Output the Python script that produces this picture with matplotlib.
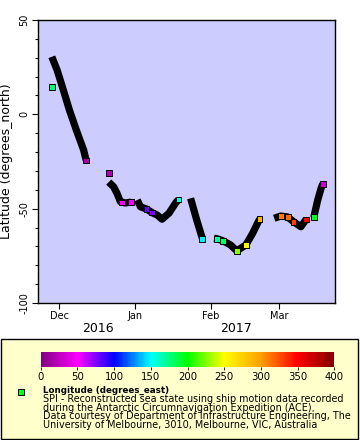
import numpy as np
import pandas as pd
import matplotlib
matplotlib.use('Agg')
import matplotlib.pyplot as plt
import matplotlib.dates as mdates
from matplotlib.colors import LinearSegmentedColormap, Normalize
from matplotlib.patches import Rectangle

plt.rcParams['axes.unicode_minus'] = False

# ship track (black), split into legs
track_time = ['2016-11-27 21:00', '2016-11-30 01:00', '2016-12-02 16:00', '2016-12-05 02:00',
              '2016-12-07 22:00', '2016-12-10 22:00', '2016-12-11 22:00',
              '2016-12-21 05:00', '2016-12-23 05:00', '2016-12-24 14:00', '2016-12-26 00:00',
              '2016-12-28 00:00', '2016-12-30 10:00',
              '2017-01-01 22:00', '2017-01-03 05:00', '2017-01-05 17:00', '2017-01-08 00:00',
              '2017-01-10 02:00', '2017-01-12 02:00', '2017-01-14 22:00', '2017-01-17 14:00',
              '2017-01-18 19:00',
              '2017-01-23 19:00', '2017-01-26 07:00', '2017-01-28 14:00',
              '2017-02-02 10:00', '2017-02-03 12:00', '2017-02-06 05:00', '2017-02-09 05:00',
              '2017-02-11 17:00', '2017-02-15 10:00', '2017-02-18 05:00', '2017-02-20 05:00',
              '2017-02-21 02:00',
              '2017-02-27 02:00', '2017-03-01 19:00', '2017-03-04 14:00', '2017-03-07 00:00',
              '2017-03-10 00:00', '2017-03-12 02:00',
              '2017-03-15 07:00', '2017-03-16 22:00', '2017-03-18 07:00', '2017-03-19 00:00']
track_lat = [30.5, 23.5, 12.6, 2.3, -8.3, -18.9, -24.2,
             -35.9, -38.4, -41.8, -46.3, -47.0, -46.5,
             -45.4, -49.0, -50.2, -52.1, -53.4, -55.6, -52.4, -47.1, -45.2,
             -44.5, -56.0, -65.7,
             -65.7, -65.9, -67.1, -69.3, -72.3, -69.3, -63.1, -57.8, -55.5,
             -55.1, -53.9, -54.4, -56.9, -59.6, -55.8,
             -54.6, -45.4, -39.2, -36.8]
track_leg = [1, 1, 1, 1, 1, 1, 1,
             2, 2, 2, 2, 2, 2,
             3, 3, 3, 3, 3, 3, 3, 3, 3,
             4, 4, 4,
             5, 5, 5, 5, 5, 5, 5, 5, 5,
             6, 6, 6, 6, 6, 6,
             7, 7, 7, 7]

# coloured samples (colour = longitude)
pt_time = ['2016-11-27 22:00', '2016-12-11 22:00', '2016-12-21 07:00', '2016-12-26 17:00',
           '2016-12-30 10:00', '2017-01-05 17:00', '2017-01-08 00:00', '2017-01-18 19:00',
           '2017-01-28 14:00', '2017-02-03 12:00', '2017-02-06 05:00', '2017-02-11 17:00',
           '2017-02-15 10:00', '2017-02-21 02:00', '2017-03-01 19:00', '2017-03-04 14:00',
           '2017-03-07 00:00', '2017-03-12 02:00', '2017-03-15 07:00', '2017-03-19 00:00']
pt_lat = [14.6, -24.5, -31.1, -46.8, -46.5, -50.2, -52.1, -45.2,
          -66.0, -65.9, -67.1, -72.3, -69.3, -55.5, -53.9, -54.4,
          -56.9, -55.8, -54.6, -36.8]
pt_lon = [178, 15, 20, 50, 52, 80, 75, 152,
          148, 168, 180, 225, 248, 290, 312, 316,
          330, 350, 195, 30]

cbar_ticks = [0, 50, 100, 150, 200, 250, 300, 350, 400]
cmap_colors = ['#800080', '#ff00ff', '#0000ff', '#00ffff', '#00ff00',
               '#ffff00', '#ffa000', '#ff0000', '#800000']

legend_lines = ['SPI - Reconstructed sea state using ship motion data recorded',
                'during the Antarctic Circumnavigation Expedition (ACE).',
                'Data courtesy of Department of Infrastructure Engineering, The',
                'University of Melbourne, 3010, Melbourne, VIC, Australia']

W, H = 360, 440
cmap = LinearSegmentedColormap.from_list('erddap', cmap_colors)
norm = Normalize(0, 400)

fig = plt.figure(figsize=(W / 100, H / 100), dpi=100)

# legend box behind everything
fig.patches.append(Rectangle((1 / W, 1 - 439 / H), 357 / W, 100 / H,
                             transform=fig.transFigure, facecolor='#ffffcc',
                             edgecolor='black', lw=1, zorder=-5))

ax = fig.add_axes([38 / W, 1 - 303 / H, 297 / W, 283 / H])
ax.set_facecolor('#ccccff')

t = pd.to_datetime(track_time)
lat = np.array(track_lat)
leg = np.array(track_leg)
for k in np.unique(leg):
    m = leg == k
    ax.plot(t[m], lat[m], color='black', lw=5.2, solid_capstyle='butt',
            solid_joinstyle='round', zorder=2)

ax.scatter(pd.to_datetime(pt_time), pt_lat, c=pt_lon, cmap=cmap, norm=norm,
           marker='s', s=17, edgecolors='black', linewidths=0.7, zorder=3)

ax.set_xlim(pd.Timestamp('2016-11-22 05:00'), pd.Timestamp('2017-03-24 00:00'))
ax.set_ylim(-100, 50)
ax.xaxis.set_major_locator(mdates.MonthLocator())
ax.xaxis.set_major_formatter(mdates.DateFormatter('%b'))
ax.set_yticks([50, 0, -50, -100])
ax.set_yticks(np.arange(-90, 50, 10), minor=True)
ax.tick_params(axis='both', which='major', length=4, width=0.8, labelsize=7, pad=2)
ax.tick_params(axis='y', which='minor', length=2, width=0.8)
for lbl in ax.get_yticklabels():
    lbl.set_rotation(90)
    lbl.set_va('center')
for s in ax.spines.values():
    s.set_linewidth(1)
ax.set_ylabel('Latitude (degrees_north)', fontsize=9)
ax.yaxis.set_label_coords(-0.084, 0.5)

fig.text(98 / W, 1 - 328 / H, '2016', fontsize=9, ha='center', va='center')
fig.text(236 / W, 1 - 328 / H, '2017', fontsize=9, ha='center', va='center')

cax = fig.add_axes([40.7 / W, 1 - 366.7 / H, 293.6 / W, 15 / H])
cb = fig.colorbar(plt.cm.ScalarMappable(norm=norm, cmap=cmap), cax=cax,
                  orientation='horizontal', ticks=cbar_ticks)
cb.outline.set_visible(False)
cax.tick_params(length=2, width=0.6, labelsize=7.3, pad=1.5)

fig.add_artist(plt.Line2D([20.7 / W], [1 - 392.3 / H], marker='s', markersize=4,
                          markerfacecolor='#00ff20', markeredgecolor='black',
                          markeredgewidth=0.7, transform=fig.transFigure))
fig.text(42.7 / W, 1 - 390.5 / H, 'Longitude (degrees_east)', fontsize=6.3,
         fontweight='bold', va='center')
for i, line in enumerate(legend_lines):
    fig.text(42.7 / W, 1 - (399 + 8.7 * i) / H, line, fontsize=6.9, va='center')

fig.savefig('out.png', dpi=100)
